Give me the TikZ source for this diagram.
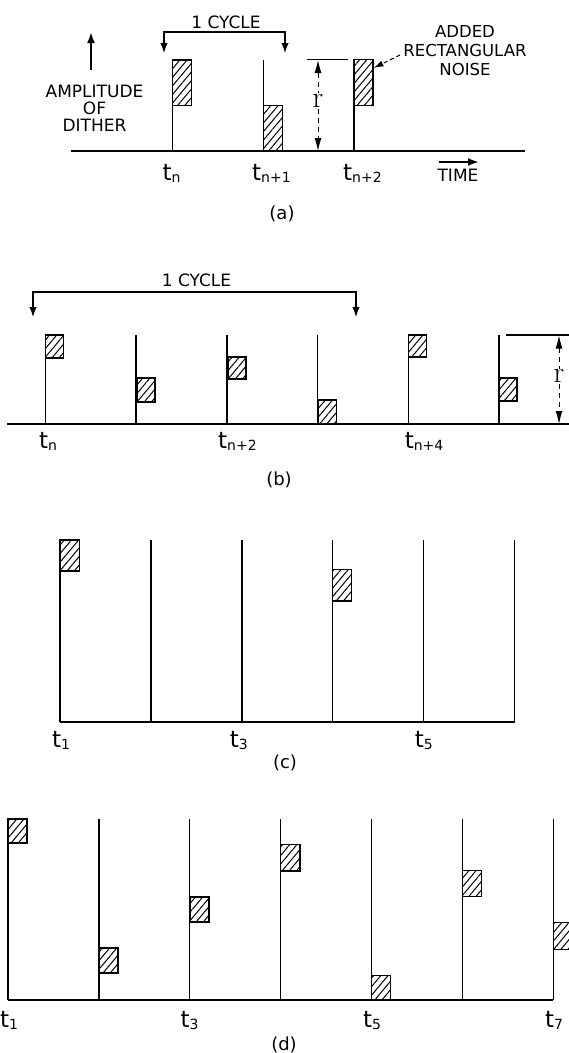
\documentclass[tikz,border=0pt]{standalone}
\usepackage{fontspec}
\newfontfamily\lett{DejaVu Sans}
\usetikzlibrary{arrows.meta,patterns.meta}

% time label t with a small index set next to it
\newcommand\tsub[1]{t\raisebox{-2pt}{\fontsize{14}{14}\selectfont #1}}

\tikzset{
  axis/.style={line width=1.9pt},
  pulse/.style={line width=1.4pt},
  noise/.style 2 args={draw, line width=1.4pt, inner sep=0pt, outer sep=0pt,
    anchor=north west, minimum width=#1, minimum height=#2,
    pattern={Lines[angle=50,distance=5.5pt,line width=1pt]}},
  lbl/.style={font=\lett\fontsize{17}{18}\selectfont, inner sep=0pt, align=center},
  caplbl/.style={font=\lett\fontsize{18}{18}\selectfont, inner sep=0pt},
  tlab/.style={anchor=base west, inner sep=0pt, font=\lett\fontsize{23}{23}\selectfont},
  cyc/.style={line width=1.3pt, {Latex[length=10pt,width=7.5pt]}-{Latex[length=10pt,width=7.5pt]}},
  dim/.style={line width=1pt, dash pattern=on 5pt off 4pt,
    {Latex[length=13pt,width=7pt]}-{Latex[length=13pt,width=7pt]}},
  leader/.style={line width=1pt, dash pattern=on 4pt off 3pt, -{Latex[length=10pt,width=6pt]}},
  bigarrow/.style={line width=2.4pt, -{Latex[length=11pt,width=8pt]}},
  rlab/.style={fill=white, inner sep=1pt, font=\rmfamily\fontsize{30}{30}\selectfont},
}

\begin{document}
\begin{tikzpicture}[x=1pt,y=-1pt]
\useasboundingbox (0,0) rectangle (569,1053);

% ---------------- (a) ----------------
\coordinate (a-l) at (71,151);
\coordinate (a-r) at (525,151);
\draw[axis] (a-l) -- (a-r);
\foreach \n/\x in {0/172.7,1/263.3,2/354}{
  \coordinate (a\n) at (\x,151);
  \coordinate (a\n-top) at (\x,60);
  \draw[pulse] (a\n) -- (a\n-top);
}
\node[noise={19pt}{45.5pt}] (na0) at (172.7,60) {};
\node[noise={19pt}{45.5pt}] (na1) at (263.3,105.5) {};
\node[noise={19pt}{46pt}] (na2) at (354,59.5) {};

\coordinate (a-cl) at (164,53);
\coordinate (a-cm) at (225,32);
\coordinate (a-cr) at (285,53);
\draw[cyc] (a-cl) |- (a-cm) -| (a-cr);
\node[lbl] (a-cyc) at (226,22) {1 CYCLE};

\coordinate (a-tl) at (307,59.5);
\coordinate (a-tr) at (348,59.5);
\draw[line width=1.2pt] (a-tl) -- (a-tr);
\coordinate (a-rt) at (318,60);
\coordinate (a-rb) at (318,151);
\draw[dim] (a-rt) -- (a-rb) node[rlab, pos=0.45] (a-rl) {r};

\node[lbl, font=\lett\fontsize{16.5}{19}\selectfont] (noise) at (465,51) {ADDED\\RECTANGULAR\\NOISE};
\coordinate (lead-a) at (400,55);
\coordinate (lead-b) at (373.5,68);
\draw[leader] (lead-a) -- (lead-b);

\node[lbl, font=\lett\fontsize{17}{17}\selectfont] (amp) at (94.5,108) {AMPLITUDE\\OF\\DITHER};
\coordinate (amp-tail) at (91,70);
\coordinate (amp-head) at (91,32);
\draw[bigarrow] (amp-tail) -- (amp-head);

\coordinate (time-tail) at (439,162);
\coordinate (time-head) at (479,162);
\draw[bigarrow] (time-tail) -- (time-head);
\node[lbl] (time) at (458,175) {TIME};

\node[tlab] (a-t0) at (162.5,180) {\tsub{n}};
\node[tlab] (a-t1) at (252,180) {\tsub{n+1}};
\node[tlab] (a-t2) at (343,180) {\tsub{n+2}};
\node[caplbl] (cap-a) at (282,214) {(a)};

% ---------------- (b) ----------------
\coordinate (b-l) at (7,424);
\coordinate (b-r) at (569,424);
\draw[axis] (b-l) -- (b-r);
\foreach \n in {0,...,5}{
  \coordinate (b\n) at (45.4+90.7*\n,424);
  \coordinate (b\n-top) at (45.4+90.7*\n,335);
  \draw[pulse] (b\n) -- (b\n-top);
}
\node[noise={18pt}{23pt}] (nb0) at (b0-top) {};
\node[noise={18pt}{24pt}] (nb1) at (137.1,378) {};
\node[noise={18pt}{22pt}] (nb2) at (227.8,357) {};
\node[noise={18pt}{24pt}] (nb3) at (318.5,400) {};
\node[noise={18pt}{22pt}] (nb4) at (b4-top) {};
\node[noise={18pt}{23pt}] (nb5) at (498.9,378) {};

\coordinate (b-cl) at (33,317);
\coordinate (b-cm) at (195,292);
\coordinate (b-cr) at (356,317);
\draw[cyc] (b-cl) |- (b-cm) -| (b-cr);
\node[lbl] (b-cyc) at (196.5,280) {1 CYCLE};

\coordinate (b-tl) at (506,335);
\coordinate (b-tr) at (569,335);
\draw[line width=1.2pt] (b-tl) -- (b-tr);
\coordinate (b-rt) at (559,335.5);
\coordinate (b-rb) at (559,424);
\draw[dim] (b-rt) -- (b-rb) node[rlab, pos=0.46] (b-rl) {r};

\node[tlab] (b-t0) at (39,448) {\tsub{n}};
\node[tlab] (b-t2) at (218,448) {\tsub{n+2}};
\node[tlab] (b-t4) at (404.6,448) {\tsub{n+4}};
\node[caplbl] (cap-b) at (279,480) {(b)};

% ---------------- (c) ----------------
\coordinate (c-l) at (60,722);
\coordinate (c-r) at (514.5,722);
\draw[axis] (c-l) -- (c-r);
\foreach \n in {0,...,5}{
  \coordinate (c\n) at (60+90.9*\n,722);
  \coordinate (c\n-top) at (60+90.9*\n,540);
  \draw[pulse] (c\n) -- (c\n-top);
}
\node[noise={19.5pt}{31pt}] (nc0) at (c0-top) {};
\node[noise={18.5pt}{31.5pt}] (nc3) at (332.7,569.3) {};

\node[tlab] (c-t1) at (52,747) {\tsub{1}};
\node[tlab] (c-t3) at (229.7,747) {\tsub{3}};
\node[tlab] (c-t5) at (414.7,747) {\tsub{5}};
\node[caplbl] (cap-c) at (285,763) {(c)};

% ---------------- (d) ----------------
\coordinate (d-l) at (8,1000);
\coordinate (d-r) at (553.3,1000);
\draw[axis] (d-l) -- (d-r);
\foreach \n in {0,...,6}{
  \coordinate (d\n) at (8+90.88*\n,1000);
  \coordinate (d\n-top) at (8+90.88*\n,819);
  \draw[pulse] (d\n) -- (d\n-top);
}
\node[noise={19pt}{24pt}] (nd0) at (d0-top) {};
\node[noise={19pt}{25pt}] (nd1) at (98.9,948) {};
\node[noise={19pt}{25pt}] (nd2) at (189.8,897) {};
\node[noise={19.5pt}{26.5pt}] (nd3) at (280.6,844.3) {};
\node[noise={19pt}{24.3pt}] (nd4) at (371.5,975.7) {};
\node[noise={19pt}{26pt}] (nd5) at (462.4,870.7) {};
\node[noise={19pt}{26.5pt}] (nd6) at (553.3,922.7) {};

\node[tlab] (d-t1) at (0,1027) {\tsub{1}};
\node[tlab] (d-t3) at (180.3,1027) {\tsub{3}};
\node[tlab] (d-t5) at (362.8,1027) {\tsub{5}};
\node[tlab] (d-t7) at (545,1027) {\tsub{7}};
\node[caplbl] (cap-d) at (284,1045) {(d)};
\end{tikzpicture}
\end{document}
